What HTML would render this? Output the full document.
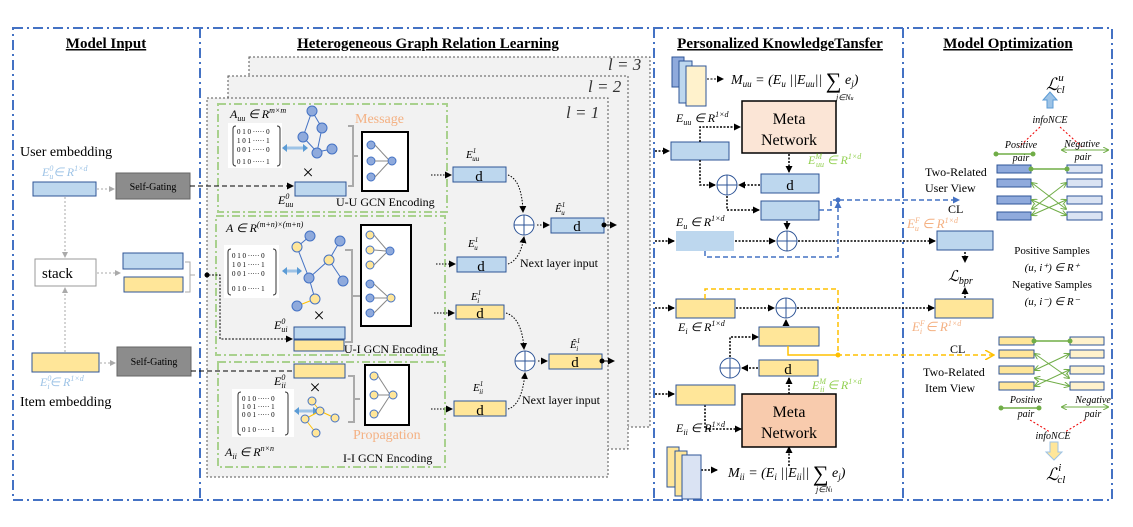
<!DOCTYPE html>
<html><head><meta charset="utf-8"><style>
html,body{margin:0;padding:0;background:#fff;}
svg{display:block;font-family:"Liberation Serif",serif;}
.it{font-style:italic}
</style></head><body>
<svg width="1133" height="527" viewBox="0 0 1133 527" xmlns="http://www.w3.org/2000/svg">
<defs>
<marker id="ah" markerUnits="userSpaceOnUse" markerWidth="7" markerHeight="7" refX="6" refY="3.5" orient="auto"><path d="M0,0 L7,3.5 L0,7z" fill="#000"/></marker>
<marker id="ag" markerUnits="userSpaceOnUse" markerWidth="6" markerHeight="6" refX="5" refY="3" orient="auto"><path d="M0,0 L6,3 L0,6z" fill="#aaa"/></marker>
<marker id="ab" markerUnits="userSpaceOnUse" markerWidth="7" markerHeight="7" refX="6" refY="3.5" orient="auto"><path d="M0,0 L7,3.5 L0,7z" fill="#4472c4"/></marker>
<marker id="ay" markerUnits="userSpaceOnUse" markerWidth="10" markerHeight="10" refX="8" refY="5" orient="auto"><path d="M0,0 L9,5 L0,10" fill="none" stroke="#ffc000" stroke-width="1.5"/></marker>
<marker id="agr" markerUnits="userSpaceOnUse" markerWidth="6" markerHeight="6" refX="5" refY="3" orient="auto"><path d="M0,0 L6,3 L0,6" fill="none" stroke="#70ad47"/></marker>
<marker id="agrs" markerUnits="userSpaceOnUse" markerWidth="6" markerHeight="6" refX="1" refY="3" orient="auto"><path d="M6,0 L0,3 L6,6" fill="none" stroke="#70ad47"/></marker>
</defs>
<!-- outer frame -->
<g fill="none" stroke="#4472c4" stroke-width="2" stroke-dasharray="10,4,2,4">
<rect x="13" y="28" width="1099" height="472"/>
<line x1="200" y1="28" x2="200" y2="500"/>
<line x1="654" y1="28" x2="654" y2="500"/>
<line x1="903" y1="28" x2="903" y2="500"/>
</g>
<g font-weight="bold" font-size="15" text-anchor="middle" text-decoration="underline">
<text x="106" y="48">Model Input</text>
<text x="428" y="48">Heterogeneous Graph Relation Learning</text>
<text x="780" y="48">Personalized KnowledgeTansfer</text>
<text x="1008" y="48">Model  Optimization</text>
</g>
<!-- Model input -->
<text x="20" y="156" font-size="14">User embedding</text>
<text x="42" y="176" font-size="12" fill="#9dc3e6" class="it">E<tspan font-size="8" dy="-5">0</tspan><tspan font-size="8" dy="8" dx="-4">u</tspan><tspan dy="-3">∈ R</tspan><tspan font-size="8" dy="-5">1×d</tspan></text>
<rect x="33" y="182" width="63" height="14" fill="#bdd7ee" stroke="#2f5597"/>
<rect x="116" y="173" width="74" height="26" fill="#8c8c8c" stroke="#666"/>
<text x="153" y="190" font-size="10" text-anchor="middle">Self-Gating</text>
<line x1="97" y1="189" x2="114" y2="189" stroke="#aaa" stroke-dasharray="2,2" marker-end="url(#ag)"/>
<line x1="65" y1="197" x2="65" y2="257" stroke="#aaa" stroke-dasharray="2,2" marker-end="url(#ag)"/>
<rect x="35" y="259" width="61" height="27" fill="#fff" stroke="#999"/>
<text x="42" y="278" font-size="15">stack</text>
<line x1="97" y1="273" x2="120" y2="273" stroke="#aaa" stroke-dasharray="2,2" marker-end="url(#ag)"/>
<rect x="123" y="253" width="60" height="16" fill="#bdd7ee" stroke="#2f5597"/>
<rect x="124" y="277" width="59" height="15" fill="#ffe699" stroke="#2f5597"/>
<path d="M185,262 h5 v30 h-5 M190,275 h5" fill="none" stroke="#aaa"/>
<line x1="65" y1="352" x2="65" y2="288" stroke="#aaa" stroke-dasharray="2,2" marker-end="url(#ag)"/>
<rect x="32" y="353" width="67" height="19" fill="#ffe699" stroke="#2f5597"/>
<rect x="117" y="347" width="74" height="29" fill="#8c8c8c" stroke="#666"/>
<text x="154" y="365" font-size="10" text-anchor="middle">Self-Gating</text>
<line x1="100" y1="363" x2="115" y2="363" stroke="#aaa" stroke-dasharray="2,2" marker-end="url(#ag)"/>
<text x="40" y="386" font-size="12" fill="#9dc3e6" class="it">E<tspan font-size="8" dy="-5">0</tspan><tspan font-size="8" dy="8" dx="-4">i</tspan><tspan dy="-3">∈ R</tspan><tspan font-size="8" dy="-5">1×d</tspan></text>
<text x="20" y="406" font-size="14">Item embedding</text>
<!-- layers -->
<g fill="#f2f2f2" stroke="#555" stroke-dasharray="2,2">
<rect x="249" y="57" width="401" height="370"/>
<rect x="228" y="76" width="400" height="373"/>
<rect x="207" y="98" width="401" height="379"/>
</g>
<g font-size="17" class="it" fill="#333"><text x="608" y="70">l = 3</text><text x="588" y="92">l = 2</text><text x="566" y="118">l = 1</text></g>
<g fill="none" stroke="#a9d18e" stroke-width="2" stroke-dasharray="8,3,2,3">
<rect x="218" y="104" width="229" height="108"/>
<rect x="216" y="216" width="229" height="139"/>
<rect x="218" y="362" width="227" height="105"/>
</g>
<!-- UU -->
<text x="230" y="118" font-size="12" class="it">A<tspan font-size="8" dy="3">uu</tspan><tspan dy="-3"> ∈ R</tspan><tspan font-size="8" dy="-5">m×m</tspan></text>
<rect x="228" y="123" width="54" height="45" fill="#fff"/>
<path d="M236,126 q-3,0 -3,3 v34 q0,3 3,3 M277,126 q3,0 3,3 v34 q0,3 -3,3" fill="none" stroke="#333"/>
<text x="237" y="134" font-size="7">0 1 0 ····· 0</text><text x="237" y="143" font-size="7">1 0 1 ····· 1</text><text x="237" y="152" font-size="7">0 0 1 ····· 0</text><text x="237" y="164" font-size="7">0 1 0 ····· 1</text>
<path d="M286,148 h18" stroke="#9dc3e6" stroke-width="3"/>
<path d="M282,148 l5,-4 v8z M308,148 l-5,-4 v8z" fill="#5b9bd5"/>
<g stroke="#4472c4"><line x1="312" y1="111" x2="303" y2="137"/><line x1="303" y1="137" x2="317" y2="152"/><line x1="317" y1="152" x2="332" y2="149"/><line x1="317" y1="152" x2="322" y2="128"/><line x1="312" y1="111" x2="322" y2="128"/></g>
<g fill="#8faadc" stroke="#4472c4"><circle cx="312" cy="111" r="5"/><circle cx="322" cy="128" r="5"/><circle cx="303" cy="137" r="5"/><circle cx="317" cy="153" r="5"/><circle cx="332" cy="149" r="5"/></g>
<text x="308" y="179" font-size="20" text-anchor="middle">×</text>
<text x="355" y="123" font-size="14" fill="#f4b183">Message</text>
<path d="M348,126 h5 v60 h-5 M353,156 h5" fill="none" stroke="#aaa" stroke-width="2"/>
<rect x="362" y="132" width="46" height="59" fill="#fff" stroke="#000" stroke-width="2"/>
<g fill="#8faadc" stroke="#4472c4"><circle cx="371" cy="145" r="4"/><circle cx="371" cy="161" r="4"/><circle cx="371" cy="177" r="4"/><circle cx="392" cy="161" r="4"/></g>
<g stroke="#888"><line x1="375" y1="145" x2="388" y2="159"/><line x1="375" y1="161" x2="388" y2="161"/><line x1="375" y1="177" x2="388" y2="163"/></g>
<rect x="295" y="182" width="51" height="14" fill="#bdd7ee" stroke="#2f5597"/>
<text x="278" y="204" font-size="12" class="it">E<tspan font-size="8" dy="-5">0</tspan><tspan font-size="8" dy="8" dx="-4">uu</tspan></text>
<text x="336" y="206" font-size="12">U-U GCN Encoding</text>
<path d="M190,186 H293" stroke="#000" stroke-dasharray="5,3" fill="none" marker-end="url(#ah)"/>
<!-- UI -->
<text x="226" y="232" font-size="12" class="it">A ∈ R<tspan font-size="8" dy="-5">(m+n)×(m+n)</tspan></text>
<rect x="224" y="245" width="55" height="53" fill="#fff"/>
<path d="M231,249 q-3,0 -3,3 v40 q0,3 3,3 M273,249 q3,0 3,3 v40 q0,3 -3,3" fill="none" stroke="#333"/>
<text x="232" y="258" font-size="7">0 1 0 ····· 0</text><text x="232" y="267" font-size="7">1 0 1 ····· 1</text><text x="232" y="276" font-size="7">0 0 1 ····· 0</text><text x="232" y="291" font-size="7">0 1 0 ····· 1</text>
<path d="M286,271 h12" stroke="#9dc3e6" stroke-width="3"/>
<path d="M282,271 l5,-4 v8z M302,271 l-5,-4 v8z" fill="#5b9bd5"/>
<g stroke="#4472c4"><line x1="297" y1="247" x2="310" y2="236"/><line x1="297" y1="247" x2="309" y2="278"/><line x1="309" y1="278" x2="329" y2="260"/><line x1="329" y1="260" x2="340" y2="241"/><line x1="329" y1="260" x2="343" y2="281"/><line x1="309" y1="278" x2="315" y2="299"/><line x1="315" y1="299" x2="297" y2="306" stroke="#ffc000"/></g>
<g fill="#8faadc" stroke="#4472c4"><circle cx="310" cy="236" r="5"/><circle cx="340" cy="241" r="5"/><circle cx="309" cy="278" r="5"/><circle cx="343" cy="281" r="5"/><circle cx="297" cy="306" r="5"/></g>
<g fill="#ffe699" stroke="#4472c4"><circle cx="297" cy="247" r="5"/><circle cx="329" cy="260" r="5"/><circle cx="315" cy="299" r="5"/></g>
<text x="319" y="322" font-size="20" text-anchor="middle">×</text>
<path d="M345,250 h7 v92 h-7 M352,296 h8" fill="none" stroke="#aaa" stroke-width="2"/>
<rect x="361" y="225" width="50" height="101" fill="#fff" stroke="#000" stroke-width="2"/>
<g fill="#ffe699" stroke="#4472c4"><circle cx="370" cy="235" r="4"/><circle cx="370" cy="250" r="4"/><circle cx="370" cy="265" r="4"/><circle cx="391" cy="298" r="4"/></g>
<g fill="#8faadc" stroke="#4472c4"><circle cx="390" cy="251" r="4"/><circle cx="370" cy="284" r="4"/><circle cx="370" cy="298" r="4"/><circle cx="370" cy="313" r="4"/></g>
<g stroke="#888"><line x1="374" y1="235" x2="386" y2="249"/><line x1="374" y1="250" x2="386" y2="251"/><line x1="374" y1="265" x2="386" y2="253"/><line x1="374" y1="284" x2="387" y2="296"/><line x1="374" y1="298" x2="387" y2="298"/><line x1="374" y1="313" x2="387" y2="300"/></g>
<rect x="294" y="327" width="51" height="12" fill="#bdd7ee" stroke="#2f5597"/>
<rect x="294" y="340" width="50" height="11" fill="#ffe699" stroke="#2f5597"/>
<text x="274" y="329" font-size="12" class="it">E<tspan font-size="8" dy="-5">0</tspan><tspan font-size="8" dy="8" dx="-4">ui</tspan></text>
<text x="344" y="353" font-size="12">U-I GCN Encoding</text>
<path d="M205,275 h15 v64 h72" fill="none" stroke="#000" stroke-dasharray="2,1.5" marker-end="url(#ah)"/>
<circle cx="207" cy="275" r="2.5"/>
<!-- II -->
<rect x="294" y="364" width="51" height="14" fill="#ffe699" stroke="#2f5597"/>
<path d="M191,371 H292" stroke="#000" stroke-dasharray="5,3" fill="none"/>
<text x="274" y="385" font-size="12" class="it">E<tspan font-size="8" dy="-5">0</tspan><tspan font-size="8" dy="8" dx="-4">ii</tspan></text>
<text x="315" y="394" font-size="20" text-anchor="middle">×</text>
<rect x="232" y="389" width="62" height="48" fill="#fff"/>
<path d="M241,392 q-3,0 -3,3 v37 q0,3 3,3 M285,392 q3,0 3,3 v37 q0,3 -3,3" fill="none" stroke="#333"/>
<text x="242" y="401" font-size="7">0 1 0 ····· 0</text><text x="242" y="409" font-size="7">1 0 1 ····· 1</text><text x="242" y="417" font-size="7">0 0 1 ····· 0</text><text x="242" y="432" font-size="7">0 1 0 ····· 1</text>
<path d="M298,411 h16" stroke="#9dc3e6" stroke-width="3"/>
<path d="M294,411 l5,-4 v8z M318,411 l-5,-4 v8z" fill="#5b9bd5"/>
<g stroke="#ffc000"><line x1="312" y1="401" x2="320" y2="411"/><line x1="320" y1="411" x2="305" y2="419"/><line x1="320" y1="411" x2="335" y2="418"/><line x1="305" y1="419" x2="316" y2="433"/></g>
<g fill="#ffe699" stroke="#4472c4"><circle cx="312" cy="401" r="4"/><circle cx="320" cy="411" r="4"/><circle cx="305" cy="419" r="4"/><circle cx="335" cy="418" r="4"/><circle cx="316" cy="433" r="4"/></g>
<path d="M348,376 h6 v46 h-6 M354,399 h6" fill="none" stroke="#aaa" stroke-width="2"/>
<rect x="365" y="365" width="44" height="60" fill="#fff" stroke="#000" stroke-width="2"/>
<g fill="#ffe699" stroke="#4472c4"><circle cx="374" cy="376" r="4"/><circle cx="374" cy="395" r="4"/><circle cx="374" cy="414" r="4"/><circle cx="393" cy="395" r="4"/></g>
<g stroke="#888"><line x1="378" y1="376" x2="389" y2="393"/><line x1="378" y1="395" x2="389" y2="395"/><line x1="378" y1="414" x2="389" y2="397"/></g>
<text x="353" y="439" font-size="14" fill="#f4b183">Propagation</text>
<text x="225" y="456" font-size="12" class="it">A<tspan font-size="8" dy="3">ii</tspan><tspan dy="-3"> ∈ R</tspan><tspan font-size="8" dy="-5">n×n</tspan></text>
<text x="343" y="462" font-size="12">I-I GCN Encoding</text>
<!-- d boxes -->
<g stroke="#2f5597"><rect x="453" y="167" width="53" height="15" fill="#bdd7ee"/><rect x="457" y="257" width="49" height="15" fill="#bdd7ee"/><rect x="456" y="305" width="48" height="14" fill="#ffe699"/><rect x="454" y="401" width="52" height="15" fill="#ffe699"/>
<rect x="551" y="218" width="53" height="15" fill="#bdd7ee"/><rect x="549" y="354" width="53" height="15" fill="#ffe699"/></g>
<g font-size="15" text-anchor="middle"><text x="479" y="181">d</text><text x="481" y="271">d</text><text x="480" y="318">d</text><text x="480" y="415">d</text><text x="577" y="231">d</text><text x="575" y="367">d</text></g>
<g font-size="11" class="it"><text x="466" y="158">E<tspan font-size="7" dy="-5">1</tspan><tspan font-size="7" dy="8" dx="-4">uu</tspan></text><text x="468" y="247">E<tspan font-size="7" dy="-5">1</tspan><tspan font-size="7" dy="8" dx="-4">u</tspan></text><text x="471" y="300">E<tspan font-size="7" dy="-5">1</tspan><tspan font-size="7" dy="8" dx="-4">i</tspan></text><text x="473" y="391">E<tspan font-size="7" dy="-5">1</tspan><tspan font-size="7" dy="8" dx="-4">ii</tspan></text><text x="555" y="212">Ê<tspan font-size="7" dy="-5">1</tspan><tspan font-size="7" dy="8" dx="-4">u</tspan></text><text x="570" y="348">Ê<tspan font-size="7" dy="-5">1</tspan><tspan font-size="7" dy="8" dx="-4">i</tspan></text></g>
<g stroke="#000" stroke-dasharray="1.5,1.5" fill="none" marker-end="url(#ah)"><path d="M431,175 h20"/><path d="M436,264 h19"/><path d="M434,313 h20"/><path d="M431,409 h21"/><path d="M537,225 h12"/><path d="M538,361 h9"/>
<path d="M508,175 Q522,180 523,212"/><path d="M508,264 Q520,260 524,237"/><path d="M506,313 Q522,318 524,349"/><path d="M508,409 Q522,405 525,373"/></g>
<g fill="#fff" stroke="#2f5597"><circle cx="524" cy="225" r="10"/><circle cx="525" cy="361" r="10"/></g>
<g stroke="#2f5597"><path d="M514,225h20M524,215v20M515,361h20M525,351v20"/></g>
<path d="M604,225 h12" stroke="#000" marker-end="url(#ah)"/><circle cx="604" cy="225" r="2.5"/>
<path d="M602,361 h12" stroke="#000" marker-end="url(#ah)"/><circle cx="602" cy="361" r="2.5"/>
<text x="520" y="267" font-size="12">Next layer input</text>
<text x="522" y="404" font-size="12">Next layer input</text>
<!-- PKT -->
<g stroke="#2f5597"><rect x="672" y="57" width="12" height="30" fill="#8faadc"/><rect x="679" y="61" width="13" height="42" fill="#bdd7ee"/><rect x="686" y="66" width="20" height="40" fill="#fff2cc"/></g>
<path d="M707,79 h16" stroke="#000" stroke-dasharray="2,1.5" marker-end="url(#ah)"/>
<text x="731" y="84" font-size="14" class="it">M<tspan font-size="9" dy="3">uu</tspan><tspan dy="-3"> = (E</tspan><tspan font-size="9" dy="3">u</tspan><tspan dy="-3"> ||E</tspan><tspan font-size="9" dy="3">uu</tspan><tspan dy="-3">|| </tspan><tspan font-size="22" dy="4" font-style="normal">∑</tspan><tspan dy="-4"> e</tspan><tspan font-size="9" dy="3">j</tspan><tspan dy="-3">)</tspan></text>
<text x="836" y="100" font-size="8" class="it">j∈N<tspan font-size="6">u</tspan></text>
<rect x="742" y="101" width="94" height="52" fill="#fbe5d6" stroke="#000" stroke-width="1.5"/>
<text x="789" y="124" font-size="16" text-anchor="middle">Meta</text><text x="789" y="145" font-size="16" text-anchor="middle">Network</text>
<text x="676" y="122" font-size="12" class="it">E<tspan font-size="8" dy="3">uu</tspan><tspan dy="-3"> ∈ R</tspan><tspan font-size="8" dy="-5">1×d</tspan></text>
<rect x="671" y="142" width="58" height="18" fill="#bdd7ee" stroke="#2f5597"/>
<rect x="761" y="174" width="58" height="19" fill="#bdd7ee" stroke="#2f5597"/><text x="790" y="190" font-size="15" text-anchor="middle">d</text>
<text x="808" y="164" font-size="12" class="it" fill="#92d050">E<tspan font-size="8" dy="-5">M</tspan><tspan font-size="8" dy="8" dx="-6">uu</tspan><tspan dy="-3"> ∈ R</tspan><tspan font-size="8" dy="-5">1×d</tspan></text>
<rect x="761" y="201" width="58" height="19" fill="#bdd7ee" stroke="#2f5597"/>
<text x="676" y="226" font-size="12" class="it">E<tspan font-size="8" dy="3">u</tspan><tspan dy="-3"> ∈ R</tspan><tspan font-size="8" dy="-5">1×d</tspan></text>
<rect x="676" y="231" width="58" height="20" fill="#bdd7ee"/>
<g fill="#fff" stroke="#2f5597"><circle cx="727" cy="185" r="10"/><circle cx="787" cy="241" r="10"/><circle cx="786" cy="308" r="10"/><circle cx="730" cy="368" r="10"/></g>
<g stroke="#2f5597"><path d="M717,185h20M727,175v20M777,241h20M787,231v20M776,308h20M786,298v20M720,368h20M730,358v20"/></g>
<g stroke="#000" stroke-dasharray="2,1.5" fill="none" stroke-width="1.5" marker-end="url(#ah)">
<path d="M655,151 h14"/><path d="M700,142 v-15 h40"/><path d="M700,160 v25 h15"/><path d="M760,185 h-21"/><path d="M789,154 v18"/><path d="M727,196 v14 h32"/><path d="M787,221 v8"/><path d="M655,241 h19"/><path d="M735,241 h40"/><path d="M798,241 h137"/>
<path d="M655,308 h19"/><path d="M736,308 h38"/><path d="M797,308 h137"/><path d="M786,326 v-6"/><path d="M730,357 v-20 h28"/><path d="M758,368 h-16"/><path d="M789,394 v-16"/><path d="M655,394 h19"/><path d="M705,405 v24 h36"/><path d="M789,466 v-19"/><path d="M701,470 h16"/><path d="M965,252 v10"/><path d="M965,298 v-10"/>
</g>
<path d="M819,210 h12 v-10 h8 M839,200 h120" stroke="#4472c4" stroke-width="1.5" stroke-dasharray="5,3" fill="none" marker-end="url(#ab)"/>
<path d="M705,251 v6 h133 v-55" stroke="#4472c4" stroke-width="1.5" stroke-dasharray="5,3" fill="none" marker-end="url(#ab)"/>
<circle cx="838" cy="200" r="2.5" fill="#4472c4"/>
<rect x="676" y="299" width="59" height="19" fill="#ffe699" stroke="#2f5597"/>
<text x="678" y="331" font-size="12" class="it">E<tspan font-size="8" dy="3">i</tspan><tspan dy="-3"> ∈ R</tspan><tspan font-size="8" dy="-5">1×d</tspan></text>
<rect x="759" y="327" width="60" height="19" fill="#ffe699" stroke="#2f5597"/>
<rect x="759" y="360" width="59" height="16" fill="#ffe699" stroke="#2f5597"/><text x="788" y="374" font-size="15" text-anchor="middle">d</text>
<text x="812" y="389" font-size="12" class="it" fill="#92d050">E<tspan font-size="8" dy="-5">M</tspan><tspan font-size="8" dy="8" dx="-6">ii</tspan><tspan dy="-3"> ∈ R</tspan><tspan font-size="8" dy="-5">1×d</tspan></text>
<rect x="676" y="385" width="59" height="20" fill="#ffe699" stroke="#2f5597"/>
<text x="676" y="432" font-size="12" class="it">E<tspan font-size="8" dy="3">ii</tspan><tspan dy="-3"> ∈ R</tspan><tspan font-size="8" dy="-5">1×d</tspan></text>
<rect x="742" y="394" width="94" height="53" fill="#f8cbad" stroke="#000" stroke-width="1.5"/>
<text x="789" y="417" font-size="16" text-anchor="middle">Meta</text><text x="789" y="438" font-size="16" text-anchor="middle">Network</text>
<path d="M705,299 v-10 h133 v66 h155" stroke="#ffc000" stroke-width="1.5" stroke-dasharray="5,3" fill="none" marker-end="url(#ay)"/>
<path d="M788,346 v9 h48" stroke="#ffc000" stroke-width="1.5" fill="none"/>
<circle cx="838" cy="355" r="2.5" fill="#ffc000"/>
<g stroke="#2f5597"><rect x="667" y="447" width="12" height="40" fill="#ffe699"/><rect x="675" y="451" width="12" height="45" fill="#ffe699"/><rect x="682" y="455" width="19" height="44" fill="#dae3f3"/></g>
<text x="728" y="477" font-size="14" class="it">M<tspan font-size="9" dy="3">ii</tspan><tspan dy="-3"> = (E</tspan><tspan font-size="9" dy="3">i</tspan><tspan dy="-3"> ||E</tspan><tspan font-size="9" dy="3">ii</tspan><tspan dy="-3">|| </tspan><tspan font-size="22" dy="4" font-style="normal">∑</tspan><tspan dy="-4"> e</tspan><tspan font-size="9" dy="3">j</tspan><tspan dy="-3">)</tspan></text>
<text x="816" y="492" font-size="8" class="it">j∈N<tspan font-size="6">i</tspan></text>
<!-- optimization -->
<text x="907" y="228" font-size="13" class="it" fill="#f4b183">E<tspan font-size="8" dy="-5">F</tspan><tspan font-size="8" dy="8" dx="-5">u</tspan><tspan dy="-3"> ∈ R</tspan><tspan font-size="8" dy="-5">1×d</tspan></text>
<rect x="937" y="231" width="56" height="19" fill="#bdd7ee" stroke="#2f5597"/>
<text x="948" y="281" font-size="15" class="it">ℒ<tspan font-size="10" dy="3">bpr</tspan></text>
<rect x="935" y="299" width="58" height="19" fill="#ffe699" stroke="#2f5597"/>
<text x="912" y="331" font-size="13" class="it" fill="#f4b183">E<tspan font-size="8" dy="-5">F</tspan><tspan font-size="8" dy="8" dx="-5">i</tspan><tspan dy="-3"> ∈ R</tspan><tspan font-size="8" dy="-5">1×d</tspan></text>
<text x="948" y="213" font-size="12">CL</text>
<text x="950" y="353" font-size="12">CL</text>
<text x="925" y="176" font-size="12">Two-Related</text><text x="925" y="192" font-size="12">User  View</text>
<text x="923" y="376" font-size="12">Two-Related</text><text x="925" y="392" font-size="12">Item  View</text>
<g font-size="11" text-anchor="middle"><text x="1052" y="254">Positive Samples</text><text x="1052" y="271" class="it">(u, i⁺) ∈ R⁺</text><text x="1052" y="288">Negative Samples</text><text x="1052" y="305" class="it">(u, i⁻) ∈ R⁻</text></g>
<text x="1046" y="90" font-size="17" class="it">ℒ<tspan font-size="11" dy="-9">u</tspan><tspan font-size="11" dy="12" dx="-7">cl</tspan></text>
<path d="M1047,108 v-8 h-4 l7,-8 l7,8 h-4 v8z" fill="#9dc3e6" stroke="#5b9bd5"/>
<text x="1050" y="123" font-size="10" class="it" text-anchor="middle">infoNCE</text>
<g stroke="#e00" stroke-dasharray="2,2"><line x1="1040" y1="127" x2="1019" y2="147"/><line x1="1060" y1="127" x2="1082" y2="147"/></g>
<g font-size="10" class="it" text-anchor="middle"><text x="1021" y="148">Positive</text><text x="1021" y="161">pair</text><text x="1082" y="147">Negative</text><text x="1083" y="160">pair</text></g>
<line x1="996" y1="154" x2="1033" y2="154" stroke="#70ad47" stroke-width="1.5"/><circle cx="996" cy="154" r="2.5" fill="#70ad47"/><circle cx="1033" cy="154" r="2.5" fill="#70ad47"/>
<line x1="1062" y1="150" x2="1108" y2="150" stroke="#70ad47" marker-end="url(#agr)" marker-start="url(#agrs)"/>
<g stroke="#2f5597"><rect x="997" y="165" width="34" height="8" fill="#8faadc"/><rect x="997" y="179" width="34" height="8" fill="#8faadc"/><rect x="997" y="196" width="34" height="8" fill="#8faadc"/><rect x="997" y="212" width="34" height="8" fill="#8faadc"/>
<rect x="1067" y="165" width="35" height="8" fill="#dae3f3"/><rect x="1067" y="179" width="35" height="8" fill="#dae3f3"/><rect x="1067" y="196" width="35" height="8" fill="#dae3f3"/><rect x="1067" y="212" width="35" height="8" fill="#dae3f3"/>
<rect x="999" y="337" width="35" height="8" fill="#ffe699"/><rect x="999" y="350" width="35" height="8" fill="#ffe699"/><rect x="999" y="366" width="35" height="8" fill="#ffe699"/><rect x="999" y="382" width="35" height="8" fill="#ffe699"/>
<rect x="1070" y="337" width="34" height="8" fill="#fff2cc"/><rect x="1070" y="350" width="34" height="8" fill="#fff2cc"/><rect x="1070" y="366" width="34" height="8" fill="#fff2cc"/><rect x="1070" y="382" width="34" height="8" fill="#fff2cc"/></g>
<line x1="1031" y1="169" x2="1067" y2="169" stroke="#70ad47" stroke-width="1.5"/><circle cx="1031" cy="169" r="2.5" fill="#70ad47"/><circle cx="1067" cy="169" r="2.5" fill="#70ad47"/>
<line x1="1034" y1="341" x2="1070" y2="341" stroke="#70ad47" stroke-width="1.5"/><circle cx="1034" cy="341" r="2.5" fill="#70ad47"/><circle cx="1070" cy="341" r="2.5" fill="#70ad47"/>
<g stroke="#70ad47" marker-end="url(#agr)" marker-start="url(#agrs)"><line x1="1032" y1="183" x2="1066" y2="209"/><line x1="1032" y1="209" x2="1066" y2="183"/><line x1="1032" y1="200" x2="1066" y2="215"/><line x1="1032" y1="215" x2="1066" y2="200"/>
<line x1="1035" y1="354" x2="1069" y2="378"/><line x1="1035" y1="370" x2="1069" y2="354"/><line x1="1035" y1="386" x2="1069" y2="370"/><line x1="1035" y1="378" x2="1069" y2="386"/></g>
<g font-size="10" class="it" text-anchor="middle"><text x="1026" y="403">Positive</text><text x="1026" y="417">pair</text><text x="1093" y="403">Negative</text><text x="1093" y="417">pair</text></g>
<line x1="1001" y1="408" x2="1039" y2="408" stroke="#70ad47" stroke-width="1.5"/><circle cx="1001" cy="408" r="2.5" fill="#70ad47"/><circle cx="1039" cy="408" r="2.5" fill="#70ad47"/>
<line x1="1062" y1="407" x2="1108" y2="407" stroke="#70ad47" marker-end="url(#agr)" marker-start="url(#agrs)"/>
<g stroke="#e00" stroke-dasharray="2,2"><line x1="1030" y1="420" x2="1050" y2="432"/><line x1="1085" y1="420" x2="1065" y2="432"/></g>
<text x="1053" y="439" font-size="10" class="it" text-anchor="middle">infoNCE</text>
<path d="M1050,442 v10 h-4 l8,8 l8,-8 h-4 v-10z" fill="#ffe699" stroke="#9dc3e6"/>
<text x="1046" y="480" font-size="17" class="it">ℒ<tspan font-size="11" dy="-9">i</tspan><tspan font-size="11" dy="12" dx="-4">cl</tspan></text>
</svg>
</body></html>
